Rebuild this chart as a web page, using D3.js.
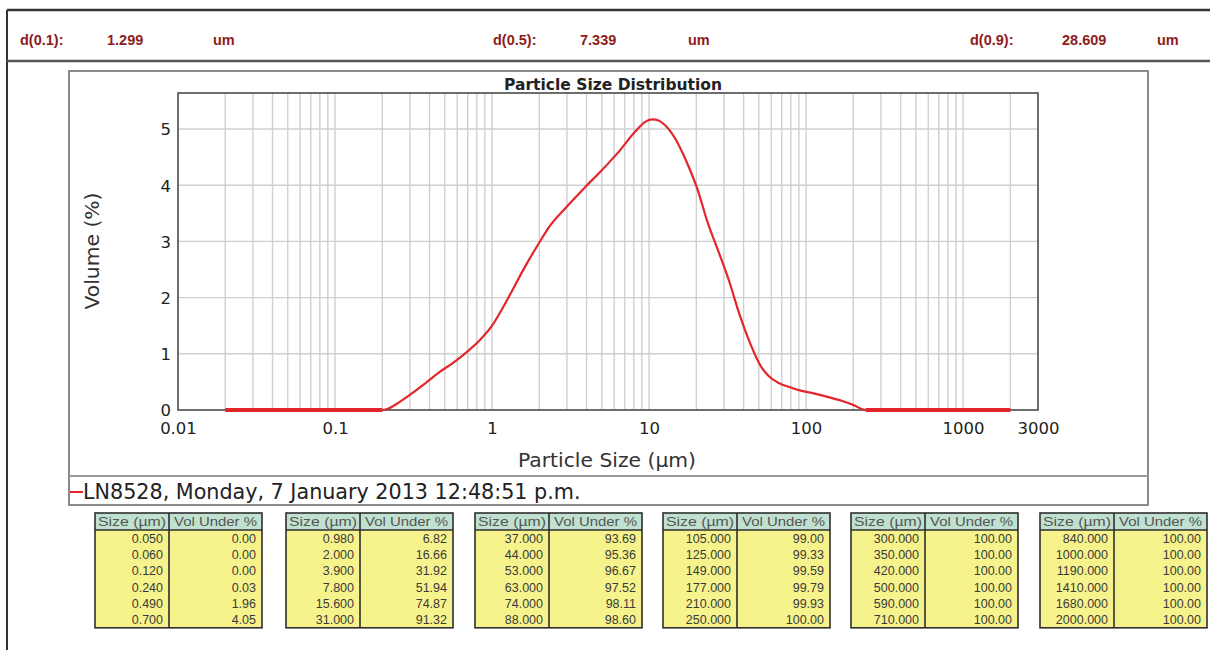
<!DOCTYPE html>
<html><head><meta charset="utf-8">
<script src="https://cdn.jsdelivr.net/npm/d3@7"></script>
<style>body{margin:0;background:#fff;overflow:hidden}svg{display:block}</style>
</head><body>
<svg id="chart" width="1210" height="650"></svg>
<script>
// ---------- data ----------
const dLabels = ["d(0.1):", "d(0.5):", "d(0.9):"];
const dValues = ["1.299", "7.339", "28.609"];
const dUnits = ["um", "um", "um"];

const chartTitle = "Particle Size Distribution";
const xAxisTitle = "Particle Size (µm)";
const yAxisTitle = "Volume (%)";
const legendLabel = "LN8528, Monday, 7 January 2013 12:48:51 p.m.";

const curveSizes = [0.02, 0.05, 0.1, 0.2, 0.22, 0.26, 0.31, 0.385, 0.46, 0.565, 0.69, 0.84, 1.0, 1.15, 1.3, 1.6, 2.0, 2.3, 3.0, 3.9, 4.9, 6.3, 8.2, 9.5, 10.5, 11.5, 12.5, 14.6, 16.5, 18, 20.5, 23.4, 27.5, 32.3, 37.5, 44, 51.5, 58, 67, 80, 91, 110, 139, 170, 200, 240, 500, 1000, 2000];
const curveVolumes = [0, 0, 0, 0, 0.03, 0.15, 0.3, 0.5, 0.67, 0.84, 1.03, 1.25, 1.5, 1.78, 2.05, 2.52, 2.98, 3.25, 3.62, 3.96, 4.24, 4.57, 4.96, 5.13, 5.17, 5.15, 5.08, 4.84, 4.55, 4.31, 3.9, 3.37, 2.84, 2.3, 1.72, 1.19, 0.78, 0.6, 0.48, 0.4, 0.35, 0.3, 0.23, 0.16, 0.09, 0, 0, 0, 0];

const xDomain = [0.01, 3000];
const yDomain = [0, 5.64];
const xTickValues = [0.01, 0.1, 1, 10, 100, 1000, 3000];
const xTickLabels = ["0.01", "0.1", "1", "10", "100", "1000", "3000"];
const yTickValues = [0, 1, 2, 3, 4, 5];

const tableHeaders = ["Size (µm)", "Vol Under %"];
const tableSizes = [0.050, 0.060, 0.120, 0.240, 0.490, 0.700,
  0.980, 2.000, 3.900, 7.800, 15.600, 31.000,
  37.000, 44.000, 53.000, 63.000, 74.000, 88.000,
  105.000, 125.000, 149.000, 177.000, 210.000, 250.000,
  300.000, 350.000, 420.000, 500.000, 590.000, 710.000,
  840.000, 1000.000, 1190.000, 1410.000, 1680.000, 2000.000];
const tableVolUnder = [0.00, 0.00, 0.00, 0.03, 1.96, 4.05,
  6.82, 16.66, 31.92, 51.94, 74.87, 91.32,
  93.69, 95.36, 96.67, 97.52, 98.11, 98.60,
  99.00, 99.33, 99.59, 99.79, 99.93, 100.00,
  100.00, 100.00, 100.00, 100.00, 100.00, 100.00,
  100.00, 100.00, 100.00, 100.00, 100.00, 100.00];

// ---------- drawing ----------
const svg = d3.select("#chart");
const red = "#e3262b";
const darkRed = "#8e1c1c";

// outer frame / header
svg.append("line").attr("x1", 7).attr("x2", 1210).attr("y1", 10).attr("y2", 10).attr("stroke", "#333").attr("stroke-width", 2.5);
svg.append("line").attr("x1", 7).attr("x2", 7).attr("y1", 10).attr("y2", 650).attr("stroke", "#333").attr("stroke-width", 2);
svg.append("line").attr("x1", 7).attr("x2", 1210).attr("y1", 61).attr("y2", 61).attr("stroke", "#555").attr("stroke-width", 2.5);

const hdrX = [[20, 107, 213], [493, 580, 688], [970, 1062, 1157]];
const hdr = svg.append("g").attr("font-family", "'Liberation Sans', Arial, sans-serif").attr("font-weight", "bold").attr("font-size", 14.5).attr("fill", darkRed);
dLabels.forEach((lab, i) => {
  hdr.append("text").attr("x", hdrX[i][0]).attr("y", 45).text(lab);
  hdr.append("text").attr("x", hdrX[i][1]).attr("y", 45).text(dValues[i]);
  hdr.append("text").attr("x", hdrX[i][2]).attr("y", 45).text(dUnits[i]);
});

// chart box
svg.append("rect").attr("x", 69).attr("y", 71).attr("width", 1079).attr("height", 434)
  .attr("fill", "none").attr("stroke", "#8a8a8a").attr("stroke-width", 2);
svg.append("line").attr("x1", 69).attr("x2", 1148).attr("y1", 476).attr("y2", 476).attr("stroke", "#9a9a9a").attr("stroke-width", 2);

// plot
const L = 178, R = 1038, T = 93, B = 410;
const x = d3.scaleLog().domain(xDomain).range([L, R]);
const y = d3.scaleLinear().domain(yDomain).range([B, T]);

// vertical grid on log minor ticks
const gridX = [];
for (let e = -2; e <= 3; e++) for (let k = 1; k <= 9; k++) {
  const v = k * Math.pow(10, e);
  if (v > xDomain[0] * 1.0001 && v < xDomain[1] * 0.9999) gridX.push(v);
}
svg.append("g").selectAll("line").data(gridX).join("line")
  .attr("x1", d => x(d)).attr("x2", d => x(d)).attr("y1", T).attr("y2", B)
  .attr("stroke", "#d0d0d0").attr("stroke-width", 1.4);
svg.append("g").selectAll("line").data(yTickValues.filter(v => v > 0)).join("line")
  .attr("x1", L).attr("x2", R).attr("y1", d => y(d)).attr("y2", d => y(d))
  .attr("stroke", "#d0d0d0").attr("stroke-width", 1.4);

// plot border
svg.append("rect").attr("x", L).attr("y", T).attr("width", R - L).attr("height", B - T)
  .attr("fill", "none").attr("stroke", "#4a4a4a").attr("stroke-width", 1.6);

// title
svg.append("text").attr("x", 613).attr("y", 90).attr("text-anchor", "middle")
  .attr("font-family", "'DejaVu Sans', Verdana, sans-serif").attr("font-weight", "bold").attr("font-size", 15.5)
  .attr("fill", "#222").text(chartTitle);

// axes via d3 axis generators
const xAxis = d3.axisBottom(x).tickValues(xTickValues).tickSize(0).tickPadding(0)
  .tickFormat((d, i) => xTickLabels[i]);
const gx = svg.append("g").attr("transform", `translate(0,${B})`).call(xAxis);
gx.select(".domain").remove();
gx.selectAll("text").attr("dy", null).attr("y", 24).attr("font-family", "'DejaVu Sans', Verdana, sans-serif")
  .attr("font-size", 16.5).attr("fill", "#222");

const yAxis = d3.axisLeft(y).tickValues(yTickValues).tickSize(0).tickPadding(0).tickFormat(d3.format("d"));
const gy = svg.append("g").attr("transform", `translate(${L - 7},0)`).call(yAxis);
gy.select(".domain").remove();
gy.selectAll("text").attr("dy", "0.36em").attr("x", 0).attr("font-family", "'DejaVu Sans', Verdana, sans-serif")
  .attr("font-size", 16.5).attr("fill", "#222");

// axis titles
svg.append("text").attr("x", 607).attr("y", 467).attr("text-anchor", "middle")
  .attr("font-family", "'DejaVu Sans', Verdana, sans-serif").attr("font-size", 20.3).attr("fill", "#333").text(xAxisTitle);
svg.append("text").attr("transform", "translate(99,251) rotate(-90)").attr("text-anchor", "middle")
  .attr("font-family", "'DejaVu Sans', Verdana, sans-serif").attr("font-size", 20.3).attr("fill", "#333").text(yAxisTitle);

// curve
const pts = curveSizes.map((s, i) => ({ s, v: curveVolumes[i] }));
const line = d3.line().x(d => x(d.s)).y(d => y(d.v)).curve(d3.curveMonotoneX);
svg.append("path").datum(pts).attr("d", line).attr("fill", "none").attr("stroke", red).attr("stroke-width", 2.2);
// zero stretches overlapping the axis look heavier
const zeroLine = d3.line().defined(d => d.v === 0).x(d => x(d.s)).y(d => y(d.v));
svg.append("path").datum(pts).attr("d", zeroLine).attr("fill", "none").attr("stroke", red).attr("stroke-width", 4);

// legend
svg.append("line").attr("x1", 70).attr("x2", 83).attr("y1", 492).attr("y2", 492).attr("stroke", red).attr("stroke-width", 2);
svg.append("text").attr("x", 83).attr("y", 499)
  .attr("font-family", "'DejaVu Sans', Verdana, sans-serif").attr("font-size", 20.7).attr("fill", "#222").text(legendLabel);

// tables
const tblLeft = [95, 286, 475, 663, 851, 1040];
const tblW = 167, col1 = 74, hdrTop = 513, hdrH = 17, rowH = 16.3, rowsPer = 6;
tblLeft.forEach((tx, t) => {
  const g = svg.append("g").attr("transform", `translate(${tx},${hdrTop})`);
  const bodyH = rowH * rowsPer;
  g.append("rect").attr("x", 0).attr("y", 0).attr("width", tblW).attr("height", hdrH).attr("fill", "#c0e1d0");
  g.append("rect").attr("x", 0).attr("y", hdrH).attr("width", tblW).attr("height", bodyH).attr("fill", "#f7f38c");
  g.append("rect").attr("x", 0).attr("y", 0).attr("width", tblW).attr("height", hdrH + bodyH)
    .attr("fill", "none").attr("stroke", "#2e2e2e").attr("stroke-width", 1.6);
  g.append("line").attr("x1", 0).attr("x2", tblW).attr("y1", hdrH).attr("y2", hdrH).attr("stroke", "#2e2e2e").attr("stroke-width", 1.6);
  g.append("line").attr("x1", col1).attr("x2", col1).attr("y1", 0).attr("y2", hdrH + bodyH).attr("stroke", "#2e2e2e").attr("stroke-width", 1.6);
  const hx = [col1 / 2, col1 + (tblW - col1) / 2], hw = [col1 - 6, tblW - col1 - 10];
  tableHeaders.forEach((h, k) => {
    g.append("text").attr("x", hx[k]).attr("y", 12.5).attr("text-anchor", "middle")
      .attr("font-family", "'Liberation Sans', Arial, sans-serif").attr("font-size", 12).attr("fill", "#555")
      .attr("textLength", hw[k]).attr("lengthAdjust", "spacingAndGlyphs").text(h);
  });
  for (let r = 0; r < rowsPer; r++) {
    const idx = t * rowsPer + r;
    const cy = hdrH + rowH * r + rowH / 2 + 4.5;
    g.append("text").attr("x", col1 - 6).attr("y", cy).attr("text-anchor", "end")
      .attr("font-family", "'Liberation Sans', Arial, sans-serif").attr("font-size", 12.5).attr("fill", "#3a3a3a")
      .text(tableSizes[idx].toFixed(3));
    g.append("text").attr("x", tblW - 6).attr("y", cy).attr("text-anchor", "end")
      .attr("font-family", "'Liberation Sans', Arial, sans-serif").attr("font-size", 12.5).attr("fill", "#3a3a3a")
      .text(tableVolUnder[idx].toFixed(2));
  }
});
</script>
</body></html>
